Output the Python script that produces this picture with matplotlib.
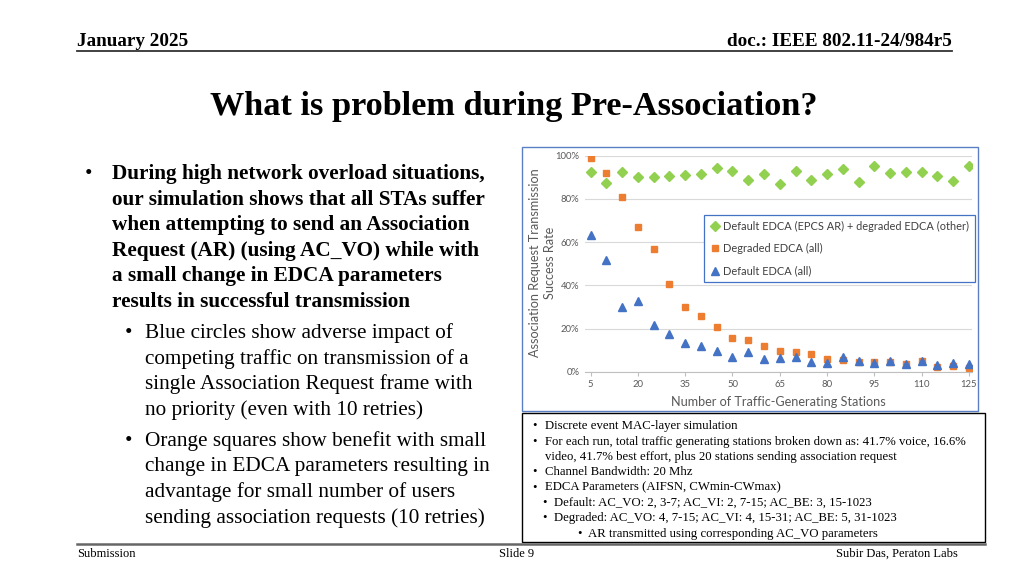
import matplotlib
matplotlib.use("Agg")
import matplotlib.pyplot as plt
from matplotlib.patches import Rectangle
from matplotlib.lines import Line2D
from matplotlib.ticker import FuncFormatter

# ---- chart data ----
stations = [5, 10, 15, 20, 25, 30, 35, 40, 45, 50, 55, 60, 65,
            70, 75, 80, 85, 90, 95, 100, 105, 110, 115, 120, 125]
epcs_default = [92.3, 87.5, 92.3, 90.1, 90.0, 90.6, 91.0, 91.5, 94.1, 93.1, 88.7, 91.5, 86.9,
                92.7, 88.7, 91.5, 93.8, 87.7, 95.4, 92.0, 92.6, 92.6, 90.4, 88.1, 95.1]
degraded_all = [99.1, 92.0, 80.7, 67.1, 56.9, 40.6, 29.8, 25.9, 20.8, 15.4, 14.5, 12.0, 9.6,
                9.1, 8.3, 5.9, 5.2, 4.5, 4.5, 4.5, 3.4, 4.9, 2.0, 2.8, 1.9]
default_all = [63.1, 51.5, 29.8, 32.9, 21.6, 17.6, 13.4, 12.0, 9.4, 6.9, 9.0, 5.9, 6.2,
               6.9, 4.3, 4.0, 6.6, 5.1, 4.0, 4.9, 3.7, 4.8, 2.9, 4.2, 3.5]
series_names = ["Default EDCA (EPCS AR) + degraded EDCA (other)",
                "Degraded EDCA (all)",
                "Default EDCA (all)"]
x_ticks = [5, 20, 35, 50, 65, 80, 95, 110, 125]
y_ticks = [0, 20, 40, 60, 80, 100]

title = "What is problem during Pre-Association?"
main_bullet = ["During high network overload situations,",
               "our simulation shows that all STAs suffer",
               "when attempting to send an Association",
               "Request (AR) (using AC_VO) while with",
               "a small change in EDCA parameters",
               "results in successful transmission"]
sub_bullet1 = ["Blue circles show adverse impact of",
               "competing traffic on transmission of a",
               "single Association Request frame with",
               "no priority (even with 10 retries)"]
sub_bullet2 = ["Orange squares show benefit with small",
               "change in EDCA parameters resulting in",
               "advantage for small number of users",
               "sending association requests (10 retries)"]
notes = [  # (level, text, bullet?)
    (0, "Discrete event MAC-layer simulation", True),
    (0, "For each run, total traffic generating stations broken down as: 41.7% voice, 16.6%", True),
    (0, "video, 41.7% best effort, plus 20 stations sending association request", False),
    (0, "Channel Bandwidth: 20 Mhz", True),
    (0, "EDCA Parameters (AIFSN, CWmin-CWmax)", True),
    (1, "Default: AC_VO: 2, 3-7; AC_VI: 2, 7-15; AC_BE: 3, 15-1023", True),
    (1, "Degraded: AC_VO: 4, 7-15; AC_VI: 4, 15-31; AC_BE: 5, 31-1023", True),
    (2, "AR transmitted using corresponding AC_VO parameters", True),
]

W, H = 1024, 576
fig = plt.figure(figsize=(W / 100, H / 100), dpi=100)
fig.patch.set_facecolor("white")


def fx(x):
    return x / W


def fy(y):
    return 1 - y / H


serif = "Liberation Serif"
chart_font = "Lato"

# ---- header / footer ----
fig.text(fx(77), fy(46.5), "January 2025", family=serif, weight="bold", fontsize=13.8, va="baseline")
fig.text(fx(952), fy(46.5), "doc.: IEEE 802.11-24/984r5", family=serif, weight="bold",
         fontsize=13.8, va="baseline", ha="right")
fig.add_artist(Line2D([fx(77), fx(952)], [fy(51), fy(51)], color="#333333", lw=1.3))

fig.add_artist(Line2D([fx(77), fx(985)], [fy(544), fy(544)], color="#666666", lw=1.8))
fig.text(fx(77), fy(557), "Submission", family=serif, fontsize=9, va="baseline")
fig.text(fx(517), fy(557), "Slide 9", family=serif, fontsize=9, va="baseline", ha="center")
fig.text(fx(958), fy(557), "Subir Das, Peraton Labs", family=serif, fontsize=9,
         va="baseline", ha="right")

# ---- title ----
fig.text(fx(514), fy(115), title, family=serif, weight="bold", fontsize=24.7,
         va="baseline", ha="center")

# ---- left bullets ----
lh = 25.5
body = 15.35
for i, line in enumerate(main_bullet):
    y = 179.3 + i * lh
    if i == 0:
        fig.text(fx(85), fy(y), "\u2022", family=serif, fontsize=body, va="baseline")
    fig.text(fx(112), fy(y), line, family=serif, weight="bold", fontsize=body, va="baseline")
for start, block in [(338.3, sub_bullet1), (446, sub_bullet2)]:
    for i, line in enumerate(block):
        y = start + i * lh
        if i == 0:
            fig.text(fx(125), fy(y), "\u2022", family=serif, fontsize=body, va="baseline")
        fig.text(fx(145), fy(y), line, family=serif, fontsize=body, va="baseline")

# ---- chart ----
fig.add_artist(Rectangle((fx(522), fy(411)), fx(456), 264 / H, fill=False,
                         edgecolor="#5B7FC4", lw=1.0))

ax_l, ax_r, ax_t, ax_b = 585, 972, 155.7, 371.7
ax = fig.add_axes([fx(ax_l), fy(ax_b), (ax_r - ax_l) / W, (ax_b - ax_t) / H])
ax.set_facecolor("none")
ax.plot(stations, epcs_default, ls="none", marker="D", ms=4.6, color="#92D050", label=series_names[0])
ax.plot(stations, degraded_all, ls="none", marker="s", ms=4.5, color="#ED7D31", label=series_names[1])
ax.plot(stations, default_all, ls="none", marker="^", ms=5.3, color="#4472C4", label=series_names[2])
ax.set_xlim(3.2, 126.0)
ax.set_ylim(0, 100)
ax.set_xticks(x_ticks)
ax.set_yticks(y_ticks)
ax.yaxis.set_major_formatter(FuncFormatter(lambda v, p: f"{v:.0f}%"))
ax.grid(axis="y", color="#D9D9D9", lw=0.8)
ax.set_axisbelow(True)
for s in ["top", "right", "left"]:
    ax.spines[s].set_visible(False)
ax.spines["bottom"].set_color("#BFBFBF")
ax.tick_params(axis="y", length=0, pad=4, labelsize=6.8, labelcolor="#595959")
ax.tick_params(axis="x", length=3, width=0.8, color="#BFBFBF", pad=3,
               labelsize=6.8, labelcolor="#595959")
for lbl in ax.get_xticklabels() + ax.get_yticklabels():
    lbl.set_family(chart_font)

fig.text(fx(778.5), fy(402.5), "Number of Traffic-Generating Stations", family=chart_font,
         fontsize=9.1, color="#595959", ha="center", va="center")
fig.text(fx(542.5), fy(263), "Association Request Transmission\nSuccess Rate", family=chart_font,
         fontsize=9.1, color="#595959", ha="center", va="center", rotation=90,
         multialignment="center", linespacing=1.35)

leg = ax.legend(loc="upper right", bbox_to_anchor=(fx(974.5), fy(215)),
                bbox_transform=fig.transFigure, borderaxespad=0,
                prop={"family": chart_font, "size": 7.9}, labelspacing=1.05,
                handletextpad=0.25, handlelength=1.0, borderpad=0.5,
                fancybox=False, framealpha=1)
leg.get_frame().set_edgecolor("#4472C4")
leg.get_frame().set_linewidth(0.9)
for t in leg.get_texts():
    t.set_color("#404040")

# ---- notes box ----
fig.add_artist(Rectangle((fx(522), fy(542)), (985 - 522) / W, (542 - 413) / H, fill=False,
                         edgecolor="black", lw=1.0))
bullet_x = {0: 532, 1: 542, 2: 577}
text_x = {0: 545, 1: 554, 2: 588}
base = [429, 445, 460, 475.3, 490.7, 506, 521, 536.7]
for (lvl, txt, has_b), y in zip(notes, base):
    if has_b:
        fig.text(fx(bullet_x[lvl]), fy(y), "\u2022", family=serif, fontsize=9.2, va="baseline")
    fig.text(fx(text_x[lvl]), fy(y), txt, family=serif, fontsize=9.2, va="baseline")

fig.savefig("out.png", dpi=100)
